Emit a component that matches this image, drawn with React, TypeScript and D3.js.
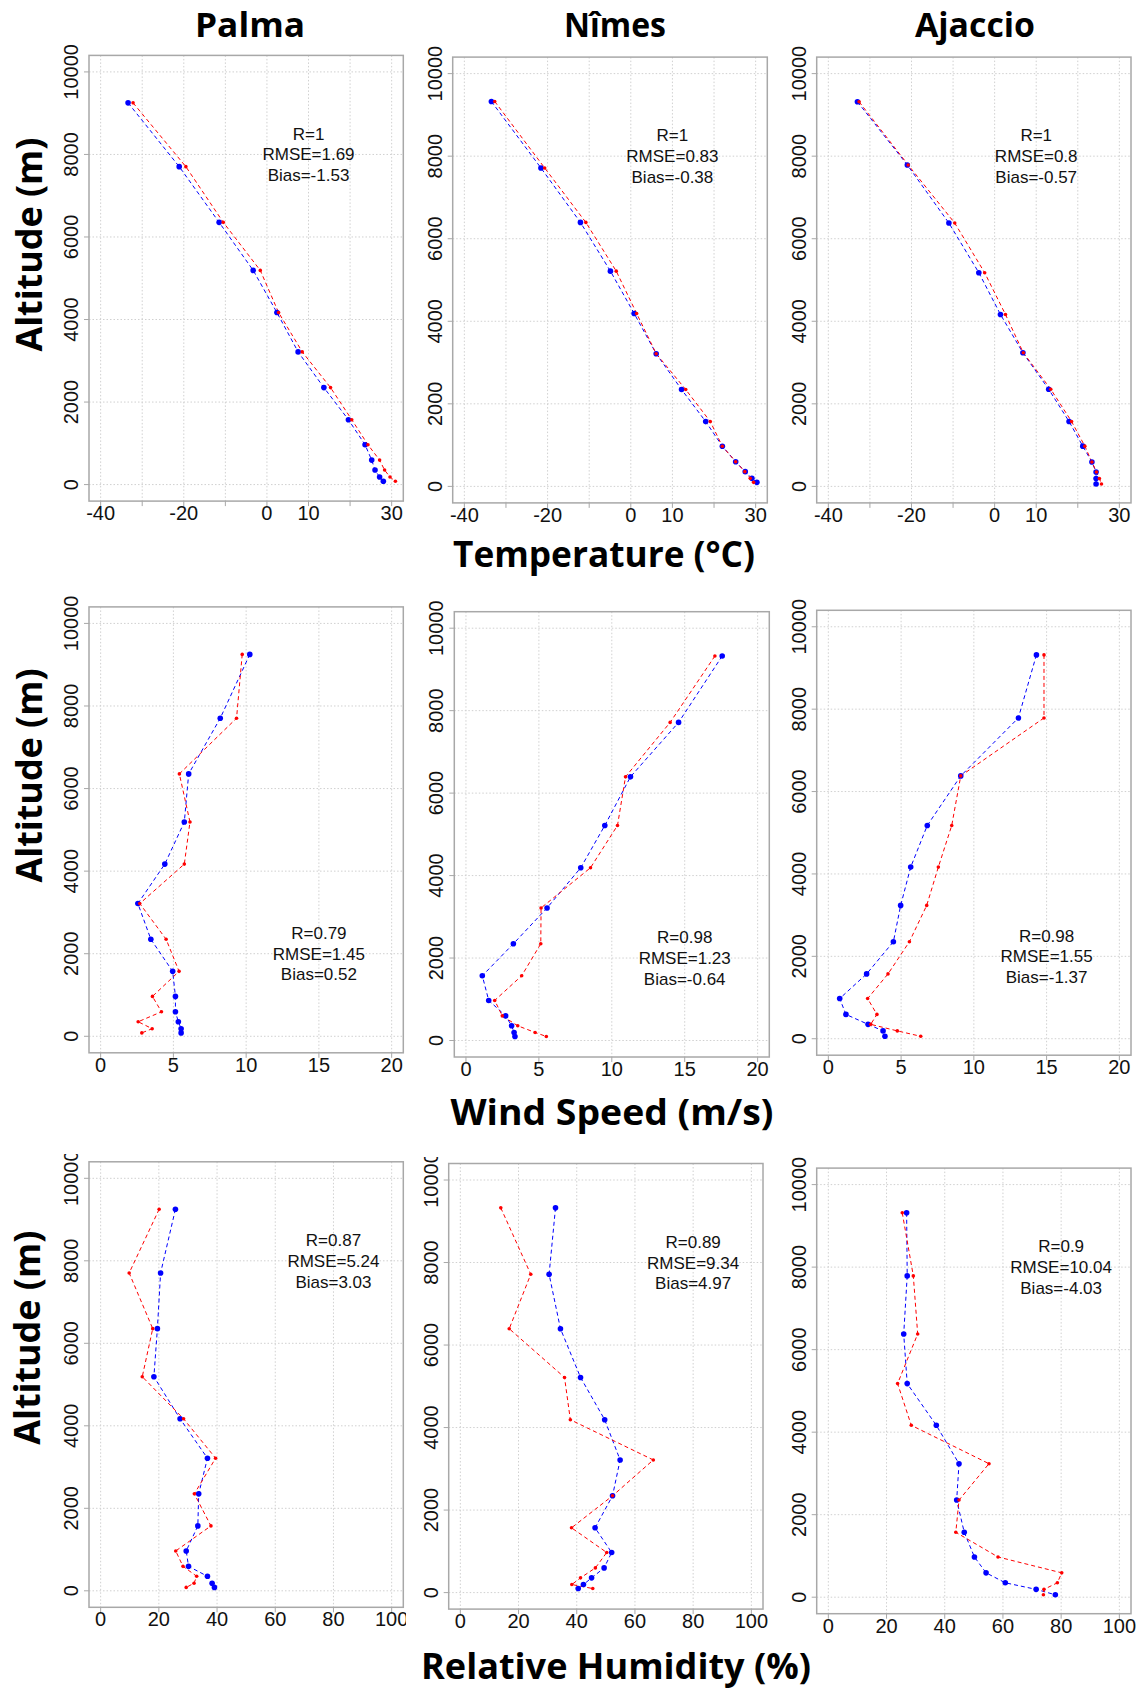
import React from 'react';
import * as d3 from 'd3';

// altitude levels of each sounding (m)
const altPalma = [9250, 7704, 6355, 5190, 4170, 3215, 2350, 1573, 966, 593, 352, 184, 82];
const altNimes = [9325, 7715, 6395, 5215, 4190, 3215, 2346, 1570, 972, 598, 357, 195, 98];
const altAjaccio = [9317, 7787, 6380, 5177, 4166, 3236, 2354, 1573, 975, 590, 349, 190, 59];

// temperature (°C)
const tempPalmaBlue = [-33.4, -21.1, -11.5, -3.3, 2.4, 7.5, 13.7, 19.6, 23.6, 25.2, 26.0, 27.1, 28.0];
const tempPalmaRed = [-32.2, -19.5, -10.5, -1.6, 2.8, 8.5, 15.3, 20.4, 24.3, 27.1, 28.3, 29.6, 30.9];
const tempNimesBlue = [-33.5, -21.6, -12.1, -4.9, 0.8, 6.1, 12.2, 18.0, 22.0, 25.2, 27.5, 29.1, 30.3];
const tempNimesRed = [-32.7, -20.7, -10.8, -3.5, 1.4, 6.1, 13.2, 19.1, 22.0, 25.2, 27.4, 28.7, 29.5];
const tempAjaccioBlue = [-33.0, -21.0, -11.0, -3.8, 1.4, 6.8, 13.0, 17.9, 21.2, 23.4, 24.4, 24.4, 24.4];
const tempAjaccioRed = [-32.6, -20.8, -9.6, -2.4, 2.6, 6.9, 13.5, 18.5, 21.7, 23.4, 24.5, 25.2, 25.7];

// wind speed (m/s)
const windPalmaBlue = [10.25, 8.22, 6.05, 5.75, 4.41, 2.56, 3.45, 4.95, 5.14, 5.14, 5.34, 5.53, 5.53];
const windPalmaRed = [9.73, 9.34, 5.41, 6.14, 5.75, 2.69, 4.5, 5.39, 3.56, 4.18, 2.58, 3.54, 2.83];
const windNimesBlue = [17.57, 14.58, 11.28, 9.52, 7.87, 5.56, 3.25, 1.12, 1.56, 2.72, 3.13, 3.3, 3.36];
const windNimesRed = [17.07, 14.0, 10.94, 10.39, 8.54, 5.15, 5.13, 3.82, 1.97, 2.49, 3.55, 4.74, 5.51];
const windAjaccioBlue = [14.3, 13.06, 9.1, 6.8, 5.66, 4.97, 4.47, 2.63, 0.78, 1.21, 2.73, 3.76, 3.89];
const windAjaccioRed = [14.82, 14.82, 9.1, 8.48, 7.56, 6.76, 5.57, 4.1, 2.7, 3.34, 2.91, 4.74, 6.35];

// relative humidity (%)
const rhPalmaBlue = [25.7, 20.6, 19.5, 18.3, 27.3, 36.7, 33.7, 33.4, 29.4, 30.2, 36.7, 38.3, 39.1];
const rhPalmaRed = [20.1, 9.8, 17.9, 14.3, 28.5, 39.5, 32.2, 37.9, 25.8, 28.3, 33.0, 32.1, 29.4];
const rhNimesBlue = [32.7, 30.5, 34.4, 41.3, 49.6, 54.9, 52.3, 46.3, 52.0, 49.4, 45.1, 42.3, 40.5];
const rhNimesRed = [13.9, 24.2, 16.8, 35.8, 37.8, 66.3, 52.3, 38.2, 50.3, 46.4, 41.3, 38.3, 45.5];
const rhAjaccioBlue = [26.9, 27.1, 25.9, 27.1, 37.1, 44.9, 44.1, 46.7, 50.2, 54.2, 60.8, 71.4, 78.0];
const rhAjaccioRed = [25.4, 29.2, 30.7, 23.8, 28.5, 55.2, 44.9, 43.8, 58.3, 80.2, 78.7, 74.1, 73.9];

const stations = ['Palma', 'Nîmes', 'Ajaccio'];
const altTicks = [0, 2000, 4000, 6000, 8000, 10000];

const tempTicks = [-40, -30, -20, -10, 0, 10, 20, 30];
const tempTickLabels = [-40, -20, 0, 10, 30];
const windTicks = [0, 5, 10, 15, 20];
const rhTicks = [0, 20, 40, 60, 80, 100];

const tempStats = [
  ['R=1', 'RMSE=1.69', 'Bias=-1.53'],
  ['R=1', 'RMSE=0.83', 'Bias=-0.38'],
  ['R=1', 'RMSE=0.8', 'Bias=-0.57'],
];
const windStats = [
  ['R=0.79', 'RMSE=1.45', 'Bias=0.52'],
  ['R=0.98', 'RMSE=1.23', 'Bias=-0.64'],
  ['R=0.98', 'RMSE=1.55', 'Bias=-1.37'],
];
const rhStats = [
  ['R=0.87', 'RMSE=5.24', 'Bias=3.03'],
  ['R=0.89', 'RMSE=9.34', 'Bias=4.97'],
  ['R=0.9', 'RMSE=10.04', 'Bias=-4.03'],
];

const BLUE = '#0000ff';
const RED = '#ff0000';
const TICK_FONT = '"Liberation Sans", Arial, sans-serif';
const TITLE_FONT = '"Open Sans", "Noto Sans", sans-serif';

const rows = [
  {
    domain: [-40, 30], ticks: tempTicks, labels: tempTickLabels, stats: tempStats, statAt: [10, 8000],
    alts: [altPalma, altNimes, altAjaccio],
    blue: [tempPalmaBlue, tempNimesBlue, tempAjaccioBlue],
    red: [tempPalmaRed, tempNimesRed, tempAjaccioRed],
    boxes: [[89, 55.4, 314.3, 445.7], [452.7, 57.1, 314.6, 445.8], [816.7, 57.1, 314.3, 445.8]],
  },
  {
    domain: [0, 20], ticks: windTicks, labels: windTicks, stats: windStats, statAt: [15, 2000],
    alts: [altPalma, altNimes, altAjaccio],
    blue: [windPalmaBlue, windNimesBlue, windAjaccioBlue],
    red: [windPalmaRed, windNimesRed, windAjaccioRed],
    boxes: [[89, 606.9, 314.3, 445.9], [454.3, 611.7, 315, 445.3], [816.7, 610.3, 314.3, 444.9]],
  },
  {
    domain: [0, 100], ticks: rhTicks, labels: rhTicks, stats: rhStats, statAt: [80, 8000],
    alts: [altPalma, altNimes, altAjaccio],
    blue: [rhPalmaBlue, rhNimesBlue, rhAjaccioBlue],
    red: [rhPalmaRed, rhNimesRed, rhAjaccioRed],
    boxes: [[89, 1161.8, 314.3, 445.5], [448.7, 1163.5, 314.3, 445.6], [816.7, 1168.1, 314.3, 445.6]],
  },
];

// the source panels were cropped images; keep the same cut edges
const crops: Record<string, number[]> = {
  '2-0': [0, 1154, 406, 1691],
  '2-1': [406, 1157, 800, 1691],
};

function Panel({ row, col }: { row: number; col: number }) {
  const r = rows[row];
  const [bx, by, bw, bh] = r.boxes[col];
  const [d0, d1] = r.domain;
  const pad = (d1 - d0) * 0.04;
  const x = d3.scaleLinear().domain([d0 - pad, d1 + pad]).range([bx, bx + bw]);
  const y = d3.scaleLinear().domain([-400, 10400]).range([by + bh, by]);
  const alt = r.alts[col];
  const line = d3.line<number>().x((d) => x(d)).y((_, i) => y(alt[i]));
  const id = `${row}-${col}`;
  const crop = crops[id];
  const [sx, sy] = r.statAt;
  const stats = r.stats[col];
  const gridColor = '#d0d0d0';
  const axisColor = '#a8a8a8';

  return (
    <g clipPath={crop ? `url(#clip-${id})` : undefined}>
      {crop && (
        <defs>
          <clipPath id={`clip-${id}`}>
            <rect x={crop[0]} y={crop[1]} width={crop[2] - crop[0]} height={crop[3] - crop[1]} />
          </clipPath>
        </defs>
      )}
      {/* grid */}
      {r.ticks.map((t) => (
        <line key={`gx${t}`} x1={x(t)} x2={x(t)} y1={by} y2={by + bh} stroke={gridColor} strokeWidth={1} strokeDasharray="1.5,2" />
      ))}
      {altTicks.map((t) => (
        <line key={`gy${t}`} x1={bx} x2={bx + bw} y1={y(t)} y2={y(t)} stroke={gridColor} strokeWidth={1} strokeDasharray="1.5,2" />
      ))}
      {/* box */}
      <rect x={bx} y={by} width={bw} height={bh} fill="none" stroke={axisColor} strokeWidth={1.5} />
      {/* bottom axis */}
      {r.ticks.map((t) => (
        <line key={`tx${t}`} x1={x(t)} x2={x(t)} y1={by + bh} y2={by + bh + 5} stroke={axisColor} strokeWidth={1} />
      ))}
      {r.labels.map((t) => (
        <text key={`lx${t}`} x={x(t)} y={by + bh + 19} textAnchor="middle" fontFamily={TICK_FONT} fontSize={20} fill="#111">
          {t}
        </text>
      ))}
      {/* left axis */}
      {altTicks.map((t) => (
        <line key={`ty${t}`} x1={bx - 5} x2={bx} y1={y(t)} y2={y(t)} stroke={axisColor} strokeWidth={1} />
      ))}
      {altTicks.map((t) => (
        <text
          key={`ly${t}`}
          transform={`translate(${bx - 11},${y(t)}) rotate(-90)`}
          textAnchor="middle"
          fontFamily={TICK_FONT}
          fontSize={20}
          fill="#111"
        >
          {t}
        </text>
      ))}
      {/* profiles */}
      <path d={line(r.blue[col]) || ''} fill="none" stroke={BLUE} strokeWidth={1} strokeDasharray="4,3" />
      <path d={line(r.red[col]) || ''} fill="none" stroke={RED} strokeWidth={1} strokeDasharray="4,3" />
      {r.blue[col].map((v, i) => (
        <circle key={`b${i}`} cx={x(v)} cy={y(alt[i])} r={2.8} fill={BLUE} />
      ))}
      {r.red[col].map((v, i) => (
        <circle key={`r${i}`} cx={x(v)} cy={y(alt[i])} r={1.8} fill={RED} />
      ))}
      {/* scores */}
      {stats.map((s, i) => (
        <text key={s} x={x(sx)} y={y(sy) + (i - 1) * 20.7 + 6} textAnchor="middle" fontFamily={TICK_FONT} fontSize={17} fill="#111">
          {s}
        </text>
      ))}
    </g>
  );
}

const titleX = [250, 615, 975];
const yTitles = [
  { x: 41.5, y: 244.6 },
  { x: 41.5, y: 775.4 },
  { x: 40, y: 1337.7 },
];
const xTitles = [
  { text: 'Temperature (°C)', x: 604, y: 567, len: 302 },
  { text: 'Wind Speed (m/s)', x: 612, y: 1125, len: 323 },
  { text: 'Relative Humidity (%)', x: 616, y: 1679, len: 390 },
];

export default function App() {
  return (
    <svg
      width={1143}
      height={1691}
      viewBox="0 0 1143 1691"
      style={{ position: 'absolute', left: 0, top: 0, background: '#fff' }}
    >
      <rect width={1143} height={1691} fill="#fff" />
      {stations.map((s, i) => (
        <text
          key={s}
          x={titleX[i]}
          y={37}
          textAnchor="middle"
          fontFamily={TITLE_FONT}
          fontWeight={700}
          fontSize={34}
          textLength={i === 0 ? 110 : i === 1 ? 102 : 120}
          lengthAdjust="spacingAndGlyphs"
          fill="#000"
        >
          {s}
        </text>
      ))}
      {rows.map((_, ri) => stations.map((_, ci) => <Panel key={`${ri}-${ci}`} row={ri} col={ci} />))}
      {yTitles.map((t, i) => (
        <text
          key={`yt${i}`}
          transform={`translate(${t.x},${t.y}) rotate(-90)`}
          textAnchor="middle"
          fontFamily={TITLE_FONT}
          fontWeight={700}
          fontSize={36}
          textLength={214}
          lengthAdjust="spacingAndGlyphs"
          fill="#000"
        >
          Altitude (m)
        </text>
      ))}
      {xTitles.map((t) => (
        <text
          key={t.text}
          x={t.x}
          y={t.y}
          textAnchor="middle"
          fontFamily={TITLE_FONT}
          fontWeight={700}
          fontSize={35}
          textLength={t.len}
          lengthAdjust="spacingAndGlyphs"
          fill="#000"
        >
          {t.text}
        </text>
      ))}
    </svg>
  );
}
